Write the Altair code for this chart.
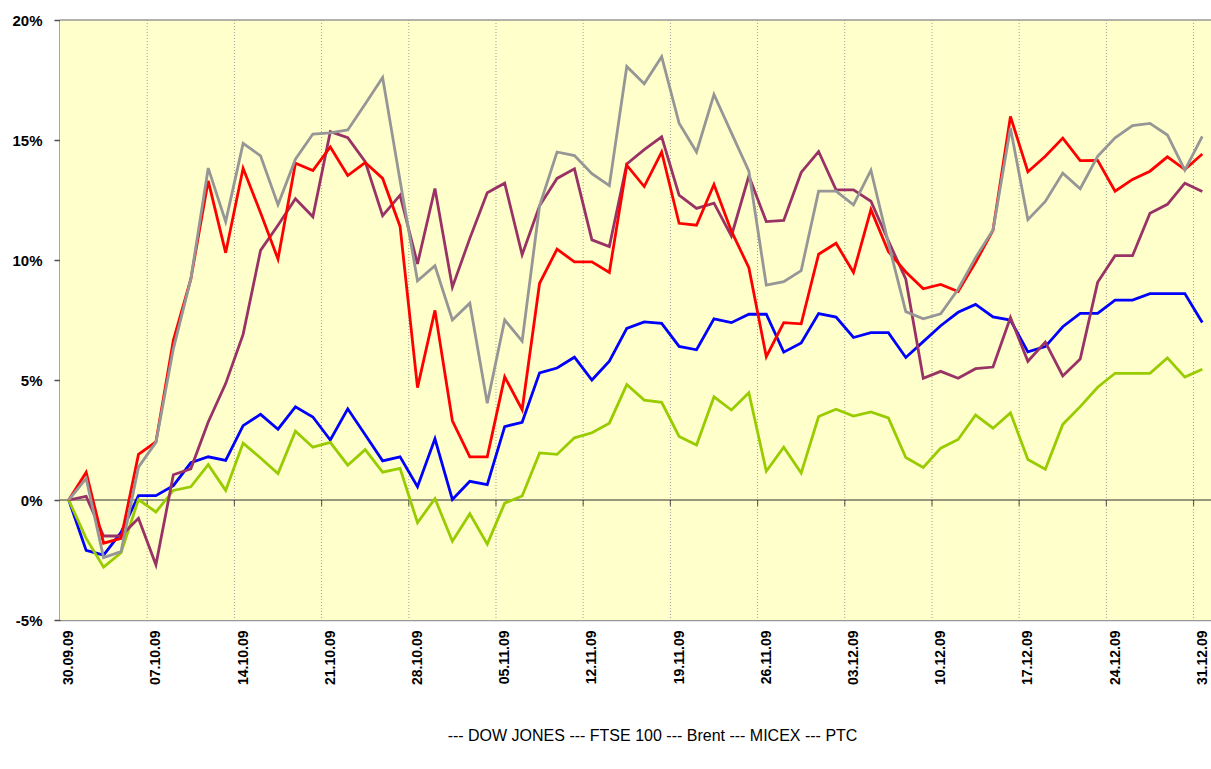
import altair as alt
import pandas as pd

dates = ["30.09.09","01.10.09","02.10.09","05.10.09","06.10.09","07.10.09","08.10.09","09.10.09","12.10.09","13.10.09","14.10.09",
         "15.10.09","16.10.09","19.10.09","20.10.09","21.10.09","22.10.09","23.10.09","26.10.09","27.10.09","28.10.09",
         "29.10.09","30.10.09","02.11.09","03.11.09","05.11.09","06.11.09","09.11.09","10.11.09","11.11.09","12.11.09",
         "13.11.09","16.11.09","17.11.09","18.11.09","19.11.09","20.11.09","23.11.09","24.11.09","25.11.09","26.11.09",
         "27.11.09","30.11.09","01.12.09","02.12.09","03.12.09","04.12.09","07.12.09","08.12.09","09.12.09","10.12.09",
         "11.12.09","14.12.09","15.12.09","16.12.09","17.12.09","18.12.09","21.12.09","22.12.09","23.12.09","24.12.09",
         "25.12.09","28.12.09","29.12.09","30.12.09","31.12.09"]
tick_labels = dates[::5]

dow = [0, -2.1, -2.3, -1.35, 0.18, 0.18, 0.6, 1.55, 1.8, 1.65, 3.1,
       3.57, 2.95, 3.88, 3.46, 2.5, 3.8, 2.72, 1.63, 1.8, 0.55,
       2.55, 0.02, 0.78, 0.64, 3.06, 3.24, 5.3, 5.5, 5.95, 5.0,
       5.78, 7.15, 7.42, 7.36, 6.4, 6.26, 7.55, 7.39, 7.74, 7.74,
       6.16, 6.54, 7.77, 7.62, 6.77, 6.97, 6.97, 5.94, 6.6, 7.26,
       7.82, 8.15, 7.63, 7.5, 6.17, 6.39, 7.22, 7.78, 7.78, 8.33,
       8.33, 8.6, 8.6, 8.6, 7.4]
ftse = [0, -1.6, -2.8, -2.2, 0.02, -0.5, 0.4, 0.55, 1.47, 0.4, 2.37,
        1.75, 1.1, 2.87, 2.2, 2.4, 1.45, 2.1, 1.16, 1.32, -0.95,
        0.06, -1.72, -0.57, -1.84, -0.13, 0.17, 1.96, 1.9, 2.59, 2.8,
        3.2, 4.81, 4.16, 4.07, 2.65, 2.29, 4.3, 3.75, 4.47, 1.2,
        2.2, 1.12, 3.48, 3.78, 3.5, 3.67, 3.42, 1.77, 1.36, 2.16,
        2.52, 3.54, 2.99, 3.63, 1.69, 1.28, 3.15, 3.89, 4.7, 5.28,
        5.28, 5.28, 5.92, 5.12, 5.45]
brent = [0, 0.15, -1.5, -1.5, -0.76, -2.7, 1.05, 1.3, 3.25, 4.85, 6.9,
         10.4, 11.45, 12.55, 11.8, 15.35, 15.1, 14.1, 11.85, 12.7, 9.84,
         12.98, 8.87, 10.9, 12.8, 13.2, 10.22, 12.26, 13.4, 13.8, 10.84,
         10.56, 14.0, 14.6, 15.13, 12.7, 12.15, 12.37, 11.0, 13.5, 11.6,
         11.65, 13.65, 14.52, 12.92, 12.92, 12.45, 10.8, 9.2, 5.07, 5.36,
         5.07, 5.47, 5.54, 7.6, 5.78, 6.58, 5.17, 5.87, 9.07, 10.18,
         10.18, 11.95, 12.32, 13.2, 12.85]
micex = [0, 1.15, -1.8, -1.6, 1.9, 2.42, 6.65, 9.2, 13.3, 10.3, 13.82,
         11.97, 10.04, 14.03, 13.73, 14.71, 13.52, 14.06, 13.4, 11.4, 4.68,
         7.9, 3.3, 1.8, 1.8, 5.13, 3.76, 9.03, 10.45, 9.92, 9.92,
         9.48, 13.95, 13.06, 14.5, 11.53, 11.45, 13.15, 11.2, 9.68, 5.97,
         7.39, 7.34, 10.24, 10.7, 9.48, 12.1, 10.35, 9.5, 8.8, 8.98,
         8.69, 9.9, 11.24, 15.98, 13.68, 14.32, 15.08, 14.14, 14.15, 12.87,
         13.36, 13.7, 14.3, 13.77, 14.42]
rts = [0, 0.9, -2.4, -2.15, 1.37, 2.4, 6.3, 9.2, 13.83, 11.6, 14.86,
       14.34, 12.3, 14.2, 15.25, 15.3, 15.42, 16.5, 17.6, 13.3, 9.13,
       9.76, 7.5, 8.2, 4.03, 7.5, 6.62, 12.26, 14.5, 14.35, 13.6,
       13.1, 18.06, 17.34, 18.47, 15.7, 14.5, 16.9, 15.3, 13.7, 8.95,
       9.1, 9.56, 12.87, 12.87, 12.3, 13.74, 10.7, 7.85, 7.55, 7.76,
       8.78, 10.1, 11.25, 15.5, 11.68, 12.44, 13.62, 12.97, 14.32, 15.09,
       15.6, 15.69, 15.21, 13.74, 15.15]

series_names = ["DOW JONES", "FTSE 100", "Brent", "MICEX", "PTC"]
series_values = [dow, ftse, brent, micex, rts]
colors = ["#0000FF", "#99CC00", "#993366", "#FF0000", "#969696"]

rows = []
for k, (name, vals) in enumerate(zip(series_names, series_values)):
    for i, v in enumerate(vals):
        rows.append({"idx": i, "date": dates[i], "series": name, "value": v})
df = pd.DataFrame(rows)

n = len(dates)
x_scale = alt.Scale(domain=[-0.5, n - 0.5], nice=False, zero=False)
y_scale = alt.Scale(domain=[-5, 20], nice=False, zero=False)

FONT = "Liberation Sans"
label_expr = "[" + ",".join(f"'{t}'" for t in tick_labels) + "][round(datum.value/5)]"

x_axis = alt.Axis(values=list(range(0, n, 5)), labelExpr=label_expr, labelAngle=270,
                  labelAlign="right", labelBaseline="middle", labelFont=FONT,
                  labelFontWeight="bold", labelFontSize=14, labelColor="black",
                  ticks=False, grid=False, domainColor="#999999", domainWidth=1.5,
                  title=None, labelPadding=10, labelOverlap=False)
y_axis = alt.Axis(values=[-5, 0, 5, 10, 15, 20], labelExpr="datum.value + '%'",
                  labelFont=FONT, labelFontWeight="bold", labelFontSize=15,
                  labelColor="black", grid=True, gridDash=[3, 2], gridColor="#B0B0A0",
                  domainColor="#505050", domainWidth=2, tickColor="#505050",
                  tickSize=6, tickWidth=1.5, labelPadding=12, title=None)

boundaries = pd.DataFrame({"b": [i - 0.5 for i in range(5, n, 5)]})
frame = pd.DataFrame({"x0": [-0.5], "x1": [n - 0.5], "y0": [-5], "y1": [20]})

bg = alt.Chart(frame).mark_rect(color="#FFFFCC").encode(
    x=alt.X("x0:Q", scale=x_scale, axis=x_axis), x2="x1:Q",
    y=alt.Y("y0:Q", scale=y_scale, axis=y_axis), y2="y1:Q",
)

vgrid = alt.Chart(boundaries).mark_rule(color="#A0A0A0", strokeDash=[1, 2], strokeWidth=1).encode(
    x=alt.X("b:Q", scale=x_scale, axis=x_axis)
)

lines = alt.Chart(df).mark_line(strokeWidth=2.8).encode(
    x=alt.X("idx:Q", scale=x_scale, axis=x_axis),
    y=alt.Y("value:Q", scale=y_scale, axis=y_axis),
    color=alt.Color("series:N", scale=alt.Scale(domain=series_names, range=colors), legend=None),
    order=alt.Order("idx:Q"),
)

zero_line = alt.Chart(pd.DataFrame({"y": [0]})).mark_rule(color="#303030", strokeWidth=1.2).encode(
    y=alt.Y("y:Q", scale=y_scale, axis=y_axis)
)
zero_ticks = alt.Chart(boundaries).mark_tick(color="#303030", orient="vertical", size=6, thickness=1.2, yOffset=3).encode(
    x=alt.X("b:Q", scale=x_scale, axis=x_axis),
    y=alt.datum(0, scale=y_scale, axis=y_axis),
)
top_line = alt.Chart(pd.DataFrame({"y": [20]})).mark_rule(color="#999999", strokeWidth=1.5).encode(
    y=alt.Y("y:Q", scale=y_scale, axis=y_axis)
)

chart = alt.layer(bg, vgrid, zero_line, zero_ticks, lines, top_line).properties(
    width=1151, height=600,
    padding={"left": 60, "top": 20, "right": 0, "bottom": 149},
    autosize=alt.AutoSizeParams(type="none"),
    title=alt.TitleParams(text="--- DOW JONES --- FTSE 100 --- Brent --- MICEX --- PTC",
                          orient="bottom", anchor="middle", frame="group", dx=17, offset=44,
                          font=FONT, fontSize=16, fontWeight="normal", color="black"),
).configure_view(stroke=None).configure(background="white")

chart.save("out.html", embed_options={"renderer": "svg", "actions": False})
